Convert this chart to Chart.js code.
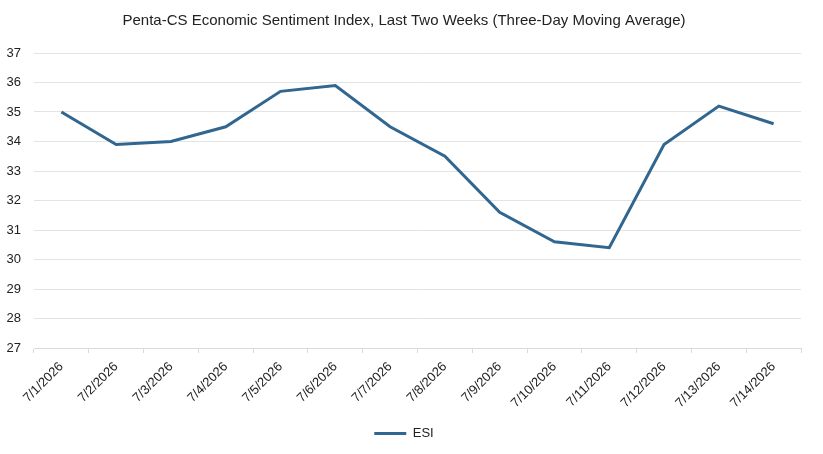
<!DOCTYPE html>
<html>
<head>
<meta charset="utf-8">
<script src="https://cdn.jsdelivr.net/npm/chart.js@4/dist/chart.umd.min.js"></script>
<style>
  html, body { margin: 0; padding: 0; background: #fff; }
  #wrap { width: 823px; height: 454px; }
</style>
</head>
<body>
<div id="wrap"><canvas id="esiChart"></canvas></div>
<script>
const dates = ["7/1/2026", "7/2/2026", "7/3/2026", "7/4/2026", "7/5/2026", "7/6/2026", "7/7/2026",
  "7/8/2026", "7/9/2026", "7/10/2026", "7/11/2026", "7/12/2026", "7/13/2026", "7/14/2026"];
const esiValues = [35.0, 33.9, 34.0, 34.5, 35.7, 35.9, 34.5, 33.5, 31.6, 30.6, 30.4, 33.9, 35.2, 34.6];
const yMin = 27;
const yMax = 37;

const font = "'Liberation Sans', Arial, sans-serif";
const lineColor = "#30668f";

const ctx = document.getElementById("esiChart").getContext("2d");
const chart = new Chart(ctx, {
  type: "line",
  data: {
    labels: dates,
    datasets: [{
      label: "ESI",
      data: esiValues,
      borderColor: lineColor,
      backgroundColor: lineColor,
      borderWidth: 3,
      pointRadius: 0,
      tension: 0
    }]
  },
  options: {
    responsive: true,
    maintainAspectRatio: false,
    animation: false,
    layout: { padding: { left: 7, right: 22, top: 6, bottom: 4 } },
    plugins: {
      title: {
        display: true,
        text: "Penta-CS Economic Sentiment Index, Last Two Weeks (Three-Day Moving Average)",
        color: "#222",
        font: { family: font, size: 15, weight: "normal" },
        padding: { top: 6, bottom: 23 }
      },
      legend: {
        position: "bottom",
        labels: {
          color: "#222",
          font: { family: font, size: 13 },
          usePointStyle: true,
          pointStyle: "line",
          pointStyleWidth: 32,
          padding: 4
        }
      },
      tooltip: { enabled: false }
    },
    scales: {
      x: {
        offset: true,
        afterFit: scale => {
          scale.paddingLeft = 0;
          scale.height = 75;
        },
        grid: {
          offset: true,
          drawOnChartArea: false,
          drawTicks: true,
          tickLength: 5,
          color: "#d9d9d9"
        },
        border: { color: "#d9d9d9" },
        ticks: {
          color: "#222",
          font: { family: font, size: 13 },
          minRotation: 45,
          maxRotation: 45,
          autoSkip: false,
          padding: 6
        }
      },
      y: {
        min: yMin,
        max: yMax,
        afterFit: scale => { scale.width = 27; },
        grid: { color: "#e3e3e3", drawTicks: false },
        border: { display: false },
        ticks: {
          stepSize: 1,
          color: "#222",
          font: { family: font, size: 13 },
          padding: 13
        }
      }
    }
  }
});
</script>
</body>
</html>
